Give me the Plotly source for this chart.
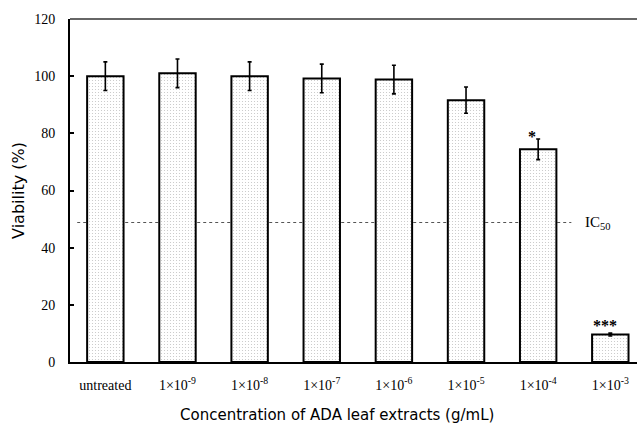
import plotly.graph_objects as go

categories = ["untreated", "1×10<sup>-9</sup>", "1×10<sup>-8</sup>", "1×10<sup>-7</sup>",
              "1×10<sup>-6</sup>", "1×10<sup>-5</sup>", "1×10<sup>-4</sup>", "1×10<sup>-3</sup>"]
viability = [100.0, 101.0, 100.0, 99.2, 98.8, 91.6, 74.4, 9.6]
sd = [5.0, 5.0, 5.0, 5.0, 5.0, 4.6, 3.6, 0.5]
significance = ["", "", "", "", "", "", "*", "***"]
ic50_value = 48.8
y_ticks = [0, 20, 40, 60, 80, 100, 120]

serif = "Liberation Serif, Times New Roman, serif"
sans = "DejaVu Sans, Verdana, sans-serif"

fig = go.Figure()
fig.add_trace(go.Bar(
    x=categories, y=viability, width=0.505,
    marker=dict(color="white",
                line=dict(color="black", width=2),
                pattern=dict(shape=".", fgcolor="#c4c4c4", bgcolor="white",
                             size=3, solidity=0.12, fillmode="replace")),
    error_y=dict(type="data", array=sd, visible=True, color="black",
                 thickness=1.6, width=2),
    showlegend=False,
))

# IC50 reference line (behind bars)
fig.add_shape(type="line", xref="x", yref="y", x0=-0.39, x1=6.46,
              y0=ic50_value, y1=ic50_value, layer="below",
              line=dict(color="#555555", width=1, dash="dot"))
fig.add_annotation(x=6.62, y=ic50_value, xref="x", yref="y", text="IC<sub>50</sub>",
                   showarrow=False, xanchor="left", yanchor="middle",
                   font=dict(family=serif, size=15, color="black"))

# significance marks
for cat, v, s, mark in zip(categories, viability, sd, significance):
    if mark:
        fig.add_annotation(x=cat, y=v + s, text="<b>" + mark + "</b>", showarrow=False,
                           xanchor="center", yanchor="bottom",
                           xshift=-6 if len(mark) == 1 else -5,
                           yshift=-8 if len(mark) == 1 else -3,
                           font=dict(family=serif, size=16, color="black"))

# top border
fig.add_shape(type="line", xref="paper", yref="paper", x0=0, x1=1, y0=1, y1=1,
              line=dict(color="#333333", width=1.5))

fig.add_annotation(x=0.471, y=-0.155, xref="paper", yref="paper",
                   text="Concentration of ADA leaf extracts (g/mL)", showarrow=False,
                   xanchor="center", yanchor="middle",
                   font=dict(family=sans, size=15, color="black"))

fig.update_layout(
    width=637, height=430,
    margin=dict(l=70, r=0, t=19, b=68),
    paper_bgcolor="white", plot_bgcolor="white",
    bargap=0.5,
    xaxis=dict(type="category", range=[-0.49, 7.37], showgrid=False,
               showline=True, linecolor="black", linewidth=2,
               ticks="", tickfont=dict(family=serif, size=14, color="black"),
               ticklabelstandoff=9, zeroline=False),
    yaxis=dict(range=[0, 120], tickvals=y_ticks, showgrid=False, zeroline=False,
               showline=True, linecolor="black", linewidth=2,
               ticks="inside", ticklen=4, tickwidth=1.5, tickcolor="black",
               tickfont=dict(family=serif, size=14, color="black"),
               ticklabelstandoff=10,
               title=dict(text="Viability (%)", font=dict(family=sans, size=16, color="black"),
                          standoff=6)),
)

fig.write_html("out.html", config={"displayModeBar": False},
               post_script="document.body.style.margin='0';document.body.style.padding='0';")
